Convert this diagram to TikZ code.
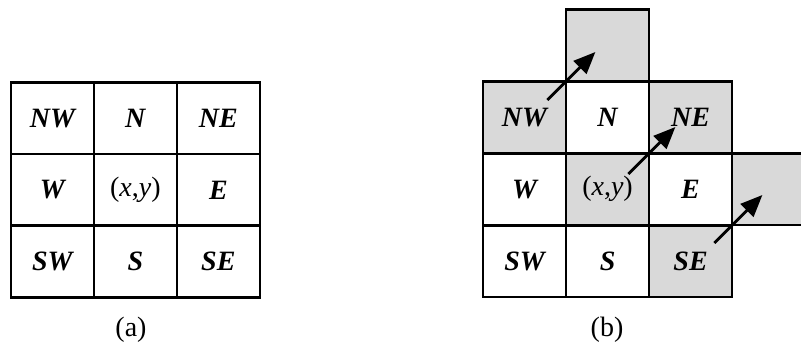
\documentclass[tikz,border=0pt]{standalone}
\usepackage{fontspec}
\setmainfont{Liberation Serif}
\usetikzlibrary{arrows.meta,calc}
\definecolor{cellgray}{RGB}{217,217,217}
\begin{document}
\begin{tikzpicture}[x=1pt,y=-1pt,
  cell/.style={draw=black, line width=2.7pt, fill=white,
    minimum width=83pt, minimum height=71.7pt, inner sep=0pt,
    anchor=north west, font=\fontsize{28}{32}\selectfont\bfseries\itshape},
  shaded/.style={cell, fill=cellgray},
  diag/.style={line width=2.8pt, -{Triangle[length=22pt,width=18pt]}},
  caption/.style={font=\fontsize{28}{32}\selectfont}
]
\useasboundingbox (0,0) rectangle (801,342);

% (a): the 3x3 neighbourhood
\node[cell] (a-nw) at (9.5,81)    {NW};
\node[cell] (a-n)  at (92.5,81)   {N};
\node[cell] (a-ne) at (175.5,81)  {NE};
\node[cell] (a-w)  at (9.5,152.7)   {W};
\node[cell] (a-c)  at (92.5,152.7)  {\mdseries\upshape(\textit{x},\textit{y})};
\node[cell] (a-e)  at (175.5,152.7) {E};
\node[cell] (a-sw) at (9.5,224.3)   {SW};
\node[cell] (a-s)  at (92.5,224.3)  {S};
\node[cell] (a-se) at (175.5,224.3) {SE};
\node[caption] (cap-a) at (131,330) {(a)};

% (b): shifted neighbourhood with the moves to the next cells
\node[shaded] (b-top) at (564.7,8.3) {};
\node[shaded] (b-nw) at (481.7,80)   {NW};
\node[cell]   (b-n)  at (564.7,80)   {N};
\node[shaded] (b-ne) at (647.7,80)   {NE};
\node[cell]   (b-w)  at (481.7,152)  {W};
\node[shaded] (b-c)  at (564.7,152)  {\mdseries\upshape(\textit{x},\textit{y})};
\node[cell]   (b-e)  at (647.7,152)  {E};
\node[shaded] (b-right) at (730.7,152) {};
\node[cell]   (b-sw) at (481.7,224)  {SW};
\node[cell]   (b-s)  at (564.7,224)  {S};
\node[shaded] (b-se) at (647.7,224)  {SE};
\node[caption] (cap-b) at (607,330) {(b)};

% diagonal moves through the shared corners
\coordinate (m1) at ($(b-nw.north east)+(-20,20)$);
\coordinate (t1) at ($(b-nw.north east)+(28,-28)$);
\coordinate (m2) at ($(b-c.north east)+(-22,22)$);
\coordinate (t2) at ($(b-c.north east)+(25,-25)$);
\coordinate (m3) at ($(b-se.north east)+(-19,19)$);
\coordinate (t3) at ($(b-se.north east)+(29,-29)$);
\draw[diag] (m1) -- (t1);
\draw[diag] (m2) -- (t2);
\draw[diag] (m3) -- (t3);
\end{tikzpicture}
\end{document}
